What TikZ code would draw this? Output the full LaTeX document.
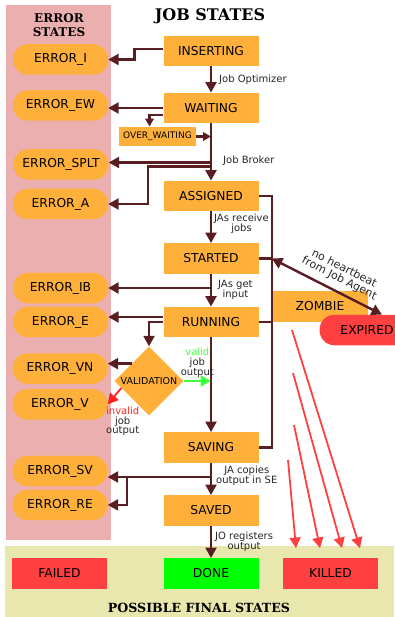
\documentclass[tikz,border=0pt]{standalone}
\usepackage{fontspec}
\setmainfont{DejaVu Sans}
\newfontfamily\headfont{DejaVu Serif}
\usetikzlibrary{positioning}
\usetikzlibrary{shapes.geometric}
\usetikzlibrary{arrows.meta}
\definecolor{stateorange}{RGB}{255,176,59}
\definecolor{errorpink}{RGB}{236,175,175}
\definecolor{finalgreen}{RGB}{232,232,174}
\definecolor{flowbrown}{RGB}{88,30,34}
\definecolor{killred}{RGB}{255,64,64}
\definecolor{donegreen}{RGB}{0,255,0}
\definecolor{validgreen}{RGB}{64,255,64}
\definecolor{invalidred}{RGB}{255,32,32}
\tikzset{
	jobbox/.style={
		rectangle,
		fill=stateorange,
		align=center,
		minimum width=95pt,
		minimum height=30.5pt,
		inner sep=0pt,
		font=\fontsize{12.3}{14}\selectfont
	},
	errpill/.style={
		jobbox,
		rounded corners=15pt
	},
	lbl/.style={
		font=\fontsize{10}{9.8}\selectfont,
		text=black!85,
		align=center,
		inner sep=2pt
	},
	heading/.style={
		align=center,
		font=\headfont\bfseries\fontsize{12}{14.5}\selectfont
	}
}

\begin{document}
\begin{tikzpicture}[x=1pt,y=-1pt,
		>={Triangle[length=10.5pt,width=11pt]},
		flow/.style={draw=flowbrown,line width=2.4pt},
		small/.style={>={Triangle[length=8pt,width=8.5pt]}},
		killarrow/.style={draw=killred,line width=1.8pt,->}]
	\useasboundingbox (0,0) rectangle (394,617);
	% areas
	\fill[errorpink] (6,5) rectangle (111,540);
	\fill[finalgreen] (5,546) rectangle (394,617);
	\node[heading] (ErrHead) at (59,25) {ERROR\\STATES};
	\node[heading, font=\headfont\bfseries\fontsize{16}{18}\selectfont] (JobHead) at (210,16) {JOB STATES};
	\node[heading, font=\headfont\bfseries\fontsize{12.6}{14}\selectfont] (FinalHead) at (199,608) {POSSIBLE FINAL STATES};
	
	% job states
	\node[jobbox] (Ins) at (211,51) {INSERTING};
	\node[jobbox] (Wait) at (211,108) {WAITING};
	\node[jobbox, minimum width=77pt, minimum height=19.5pt, font=\fontsize{9}{10}\selectfont] (OverWait) at (157.5,136.5) {OVER\_WAITING};
	\node[jobbox] (Assig) at (211,196) {ASSIGNED};
	\node[jobbox] (Start) at (211,258.5) {STARTED};
	\node[jobbox] (Run) at (211,322) {RUNNING};
	\node[jobbox, minimum width=96pt] (Zomb) at (320,306.5) {ZOMBIE};
	\node[errpill, fill=killred] (Expir) at (367,330) {EXPIRED};
	\node[diamond, fill=stateorange, minimum width=69pt, minimum height=69pt, inner sep=0pt, font=\fontsize{9.5}{10}\selectfont] (Valid) at (149,381) {VALIDATION};
	\node[jobbox] (Sav) at (211,447.5) {SAVING};
	\node[jobbox] (Saved) at (211,510.5) {SAVED};
	
	% final states
	\node[jobbox, fill=donegreen] (Done) at (211,573.5) {DONE};
	\node[jobbox, fill=killred] (Kill) at (330.5,573.5) {KILLED};
	\node[jobbox, fill=killred] (Fail) at (59.5,573.5) {FAILED};
	
	% error states
	\node[errpill] (ErrI) at (60.5,59.5) {ERROR\_I};
	\node[errpill] (ErrEW) at (60.5,105.5) {ERROR\_EW};
	\node[errpill] (ErrSPLT) at (61,164.5) {ERROR\_SPLT};
	\node[errpill] (ErrA) at (60.5,204) {ERROR\_A};
	\node[errpill] (ErrIB) at (60.5,288) {ERROR\_IB};
	\node[errpill, below=3pt of ErrIB] (ErrE) {ERROR\_E};
	\node[errpill] (ErrVN) at (60,368.5) {ERROR\_VN};
	\node[errpill, below=5pt of ErrVN] (ErrV) {ERROR\_V};
	\node[errpill] (ErrSV) at (60,471) {ERROR\_SV};
	\node[errpill, below=3pt of ErrSV] (ErrRE) {ERROR\_RE};
	
	% main flow
	\draw[flow,->] ([yshift=2pt]Ins.west) -- ++(-29,0) |- (ErrI.east);
	\draw[flow,->] (Ins) -- (Wait) node[lbl, midway, right=5pt] {Job Optimizer};
	\draw[flow,->] (Wait.west) -- (ErrEW.east |- Wait.west);
	\draw[flow,->,small] ([yshift=-7pt]Wait.west) -| ([xshift=-8pt]OverWait.north);
	\draw[flow,->,small] (OverWait.east) -- (OverWait.east -| Wait.south);
	\draw[flow,->] (Wait) -- (Assig) node[lbl, pos=0.66, right=9pt] {Job Broker};
	\draw[flow,->] ([yshift=2pt]Wait.south |- ErrSPLT.east) -- ([yshift=2pt]ErrSPLT.east);
	\draw[flow,->] ([yshift=-2pt]Wait.south |- ErrSPLT.east) -- ++(-63,0) |- (ErrA.east);
	\draw[flow,->] (Assig) -- (Start) node[lbl, pos=0.38, right=0pt] {JAs receive\\jobs};
	\draw[flow] (Assig.east) -- (Assig.east -| Zomb.west) |- (Sav.east);
	\draw[flow] (Start.east) -- (Start.east -| Zomb.west);
	\draw[flow] (Run.east) -- (Run.east -| Zomb.west);
	\draw[flow,<->] (Start.east -| Zomb.west) -- ([xshift=15pt]Expir.north) node[lbl, font=\fontsize{11}{11}\selectfont, pos=0.56, sloped, above=4pt] {no heartbeat\\from Job Agent};
	\draw[flow,->] (Start) -- (Run) node[lbl, midway, right=4pt] {JAs get\\input};
	\draw[flow,->] (Start.south |- ErrIB.east) -- (ErrIB.east);
	\draw[flow,->] ([yshift=5pt]Run.west) -- ([yshift=5pt]Run.west -| ErrE.east);
	\draw[flow,->] (Run.west) -| (Valid.north);
	\draw[flow,->] (Run) -- (Sav);
	
	% validation
	\draw[flow,->] (Valid.north west) -- (Valid.north west -| ErrVN.east);
	\draw[draw=invalidred, line width=1.8pt, ->] ([xshift=7pt,yshift=-7pt]Valid.west) -- (ErrV.east);
	\node[lbl, anchor=north] (InvalidLbl) at ([xshift=15pt]ErrV.east) {\textcolor{invalidred}{invalid}\\job\\output};
	\draw[draw=validgreen, line width=1.8pt, ->] (Valid.east) -- (Valid.east -| Run.south) node[lbl, midway, above=1pt] {\textcolor{validgreen}{valid}\\job\\output};
	
	\draw[flow,->] (Sav) -- (Saved) node[lbl, pos=0.4, right=2pt] {JA copies\\output in SE};
	\draw[flow,->] ([yshift=-6pt]Sav.south |- ErrSV.east) -- ([yshift=-6pt]ErrSV.east);
	\draw[flow,->] ([xshift=19pt,yshift=-6pt]ErrSV.east) |- (ErrRE.east);
	\draw[flow,->] (Saved) -- (Done) node[lbl, midway, right=1pt] {JO registers\\output};
	
	% killed from anywhere
	\coordinate (KillA) at (292,330);
	\coordinate (KillB) at (293,373);
	\coordinate (KillC) at (294,425);
	\coordinate (KillD) at (288,460);
	\draw[killarrow] (KillA) -- ([xshift=29.5pt,yshift=10pt]Kill.north);
	\draw[killarrow] (KillB) -- ([xshift=11.5pt,yshift=10pt]Kill.north);
	\draw[killarrow] (KillC) -- ([xshift=-10.5pt,yshift=10pt]Kill.north);
	\draw[killarrow] (KillD) -- ([xshift=-34.5pt,yshift=10pt]Kill.north);
\end{tikzpicture}
\end{document}
